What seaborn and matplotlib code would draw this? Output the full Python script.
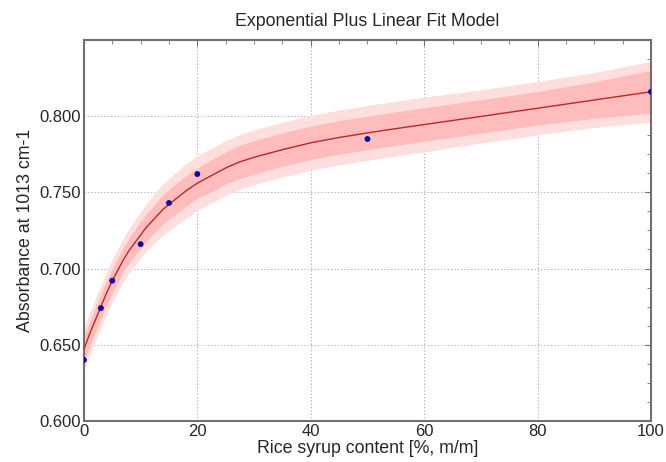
import matplotlib.pyplot as plt
import seaborn as sns
from matplotlib.ticker import MultipleLocator, FormatStrFormatter

# measured points
syrup = [0, 3, 5, 10, 15, 20, 50, 100]
absorb = [0.640, 0.674, 0.692, 0.716, 0.743, 0.762, 0.785, 0.816]

# fitted curve
fit_x = [0, 1, 2, 3, 4, 5, 6, 7, 8, 9, 10, 11, 12, 13, 14, 15, 16, 17, 18, 19, 20,
         22.5, 25, 27.5, 30, 35, 40, 45, 50, 55, 60, 70, 80, 90, 100]
fit_y = [0.647, 0.657, 0.666, 0.675, 0.684, 0.692, 0.699, 0.706, 0.712, 0.717, 0.722,
         0.727, 0.731, 0.735, 0.739, 0.742, 0.745, 0.748, 0.751, 0.7535, 0.756,
         0.761, 0.766, 0.770, 0.773, 0.778, 0.7825, 0.786, 0.789, 0.7918, 0.7945,
         0.7998, 0.8052, 0.8106, 0.816]
# half widths of the two bands
inner_half = [0.008, 0.008, 0.008, 0.008, 0.008, 0.008, 0.008, 0.008, 0.0085, 0.0085, 0.009,
              0.009, 0.009, 0.0095, 0.0095, 0.0095, 0.010, 0.010, 0.010, 0.010, 0.010,
              0.0105, 0.0105, 0.011, 0.011, 0.011, 0.011, 0.011, 0.011, 0.011, 0.011,
              0.011, 0.011, 0.012, 0.014]
outer_half = [0.014, 0.014, 0.014, 0.014, 0.014, 0.014, 0.014, 0.0145, 0.0145, 0.015, 0.015,
              0.0155, 0.016, 0.0165, 0.017, 0.017, 0.0175, 0.0175, 0.018, 0.018, 0.018,
              0.018, 0.018, 0.018, 0.018, 0.018, 0.018, 0.018, 0.018, 0.018, 0.018,
              0.0175, 0.0175, 0.018, 0.020]

sns.set_style('white')
plt.rcParams['font.family'] = ['Liberation Sans', 'DejaVu Sans']

fig = plt.figure(figsize=(6.66, 4.62), dpi=100)
ax = fig.add_axes([0.126, 0.089, 0.8515, 0.8245])

outer_lo = [y - h for y, h in zip(fit_y, outer_half)]
outer_hi = [y + h for y, h in zip(fit_y, outer_half)]
inner_lo = [y - h for y, h in zip(fit_y, inner_half)]
inner_hi = [y + h for y, h in zip(fit_y, inner_half)]

ax.fill_between(fit_x, outer_lo, outer_hi, color='#ffdede', lw=0, zorder=1)
ax.fill_between(fit_x, inner_lo, inner_hi, color='#ffbcbc', lw=0, zorder=2)
sns.lineplot(x=fit_x, y=fit_y, ax=ax, color='#b8282a', lw=1.0, zorder=3)
sns.scatterplot(x=syrup, y=absorb, ax=ax, color='#0a0a9a', s=18, edgecolor='none', zorder=4)

ax.set_xlim(0, 100)
ax.set_ylim(0.6, 0.85)
ax.xaxis.set_major_locator(MultipleLocator(20))
ax.xaxis.set_minor_locator(MultipleLocator(5))
ax.yaxis.set_major_locator(MultipleLocator(0.05))
ax.yaxis.set_minor_locator(MultipleLocator(0.0125))
ax.yaxis.set_major_formatter(FormatStrFormatter('%.3f'))
ax.set_yticks([0.6, 0.65, 0.7, 0.75, 0.8])

ax.grid(True, which='major', linestyle=(0, (1, 2)), color='#a8a8a8', lw=0.8)
ax.tick_params(which='both', direction='in', top=True, right=True, color='#707070')
ax.tick_params(which='major', length=4, labelsize=12, pad=2)
ax.tick_params(which='minor', length=3)
for sp in ax.spines.values():
    sp.set_color('#707070')
    sp.set_linewidth(1.5)

ax.set_title('Exponential Plus Linear Fit Model', fontsize=12.8, pad=10)
ax.set_xlabel('Rice syrup content [%, m/m]', fontsize=12.8, labelpad=1)
ax.set_ylabel('Absorbance at 1013 cm-1', fontsize=12.8, labelpad=4)

plt.savefig('out.png', dpi=100)
